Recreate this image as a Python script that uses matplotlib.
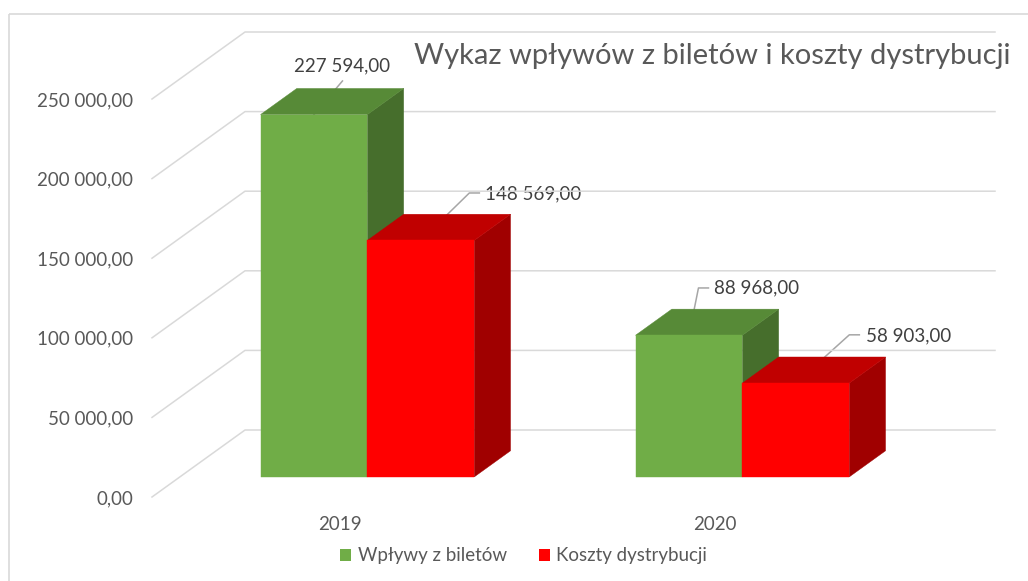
import matplotlib.pyplot as plt
from matplotlib.patches import Polygon, Rectangle, Patch
from matplotlib.lines import Line2D

plt.rcParams['font.family'] = ['Lato', 'DejaVu Sans']

# dane
lata = ['2019', '2020']
serie = ['Wpływy z biletów', 'Koszty dystrybucji']
wplywy = [227594.00, 88968.00]
koszty = [148569.00, 58903.00]
y_ticks = [0, 50000, 100000, 150000, 200000, 250000]

# kolory: przód, góra, bok
KOLORY = {
    'Wpływy z biletów':   ('#70AD47', '#578A37', '#466E2C'),
    'Koszty dystrybucji': ('#FF0000', '#C00000', '#A00000'),
}
SZARY_TXT = '#595959'
SIATKA = '#D9D9D9'

W, H = 1028, 581
X_LEFT, X_RIGHT = 152, 902     # płaszczyzna przednia (px)
Y_ZERO, Y_TOP = 497, 99
GLEB_DX, GLEB_DY = 93, 67      # przesunięcie do tylnej ściany (px)
D0, D1 = 0.30, 0.69            # głębokość słupków
SZER = 0.285                   # szerokość słupka (jednostki kategorii)


def fmt_pl(v):
    return f'{v:,.2f}'.replace(',', ' ').replace('.', ',')


fig = plt.figure(figsize=(W / 100, H / 100), dpi=100)
bg = fig.add_axes([0, 0, 1, 1])
bg.set_xlim(0, W)
bg.set_ylim(H, 0)
bg.axis('off')

ax = fig.add_axes([X_LEFT / W, 1 - Y_ZERO / H,
                   (X_RIGHT - X_LEFT) / W, (Y_ZERO - Y_TOP) / H])
ax.set_xlim(0, len(lata))
ax.set_ylim(0, y_ticks[-1])
ax.patch.set_visible(False)
for s in ax.spines.values():
    s.set_visible(False)

# przesunięcie głębokości w jednostkach danych
dxd = GLEB_DX * len(lata) / (X_RIGHT - X_LEFT)
dyd = GLEB_DY * y_ticks[-1] / (Y_ZERO - Y_TOP)


def pt(x, v, d):
    return (x + d * dxd, v + d * dyd)


# siatka: ściana boczna + tylna
for v in y_ticks:
    xs, ys = zip(pt(0, v, 0), pt(0, v, 1), pt(len(lata), v, 1))
    ax.plot(xs, ys, color=SIATKA, lw=1.1, zorder=1, clip_on=False)

# słupki
kotwice = []
for i, rok in enumerate(lata):
    for j, (nazwa, wart) in enumerate(zip(serie, [wplywy[i], koszty[i]])):
        x0 = i + 0.5 - SZER + j * SZER
        x1 = x0 + SZER
        c_front, c_top, c_side = KOLORY[nazwa]
        bok = [pt(x1, 0, D0), pt(x1, 0, D1), pt(x1, wart, D1), pt(x1, wart, D0)]
        gora = [pt(x0, wart, D0), pt(x1, wart, D0), pt(x1, wart, D1), pt(x0, wart, D1)]
        przod = [pt(x0, 0, D0), pt(x1, 0, D0), pt(x1, wart, D0), pt(x0, wart, D0)]
        for poly, c in [(bok, c_side), (gora, c_top), (przod, c_front)]:
            ax.add_patch(Polygon(poly, closed=True, facecolor=c, edgecolor=c,
                                 lw=0.3, zorder=3, clip_on=False))
        kotwice.append((pt((x0 + x1) / 2, wart, D0), wart))

# osie
ax.set_yticks(y_ticks)
ax.set_yticklabels([fmt_pl(v) for v in y_ticks])
ax.set_xticks([i + 0.5 for i in range(len(lata))])
ax.set_xticklabels(lata)
ax.tick_params(axis='y', length=0, pad=13.5, labelsize=13.5, labelcolor=SZARY_TXT)
ax.tick_params(axis='x', length=0, pad=13.5, labelsize=13.5, labelcolor=SZARY_TXT)

# etykiety danych (przesunięcia w px: tekst, punkty linii)
styl_etykiet = [
    dict(txt=(28.5, -48.6), ha='center', linia=[(28.5, -33.6)]),
    dict(txt=(64.5, -46.4), ha='left', linia=[(48.5, -47.4), (58.5, -47.4)]),
    dict(txt=(25.5, -47.3), ha='left', linia=[(9.5, -47.3), (19.5, -47.3)]),
    dict(txt=(70.5, -47.3), ha='left', linia=[(53.5, -48.3), (63.5, -48.3)]),
]
fig.canvas.draw()
for (p, wart), st in zip(kotwice, styl_etykiet):
    px, py = ax.transData.transform(p)
    py = H - py
    xs = [px] + [px + dx for dx, dy in st['linia']]
    ys = [py] + [py + dy for dx, dy in st['linia']]
    bg.add_line(Line2D(xs, ys, color='#A6A6A6', lw=1.1, zorder=5))
    bg.text(px + st['txt'][0], py + st['txt'][1], fmt_pl(wart), ha=st['ha'],
            va='center', fontsize=13.5, color='#404040', zorder=6)

# tytuł
bg.text(414, 56, 'Wykaz wpływów z biletów i koszty dystrybucji', ha='left',
        va='center', fontsize=21, color=SZARY_TXT)

# ramka wykresu
bg.add_patch(Rectangle((9, 14), 1100, 700, fill=False, edgecolor=SIATKA, lw=1.2))

# legenda
uchwyty = [Patch(facecolor=KOLORY[n][0], edgecolor='none', label=n) for n in serie]
leg = fig.legend(handles=uchwyty, loc='center', bbox_to_anchor=(523.5 / W, 1 - 556 / H),
                 ncol=2, frameon=False, fontsize=13.5, handlelength=0.6,
                 handleheight=0.65, handletextpad=0.35, columnspacing=1.7)
for t in leg.get_texts():
    t.set_color(SZARY_TXT)

fig.savefig('out.png', dpi=100)
